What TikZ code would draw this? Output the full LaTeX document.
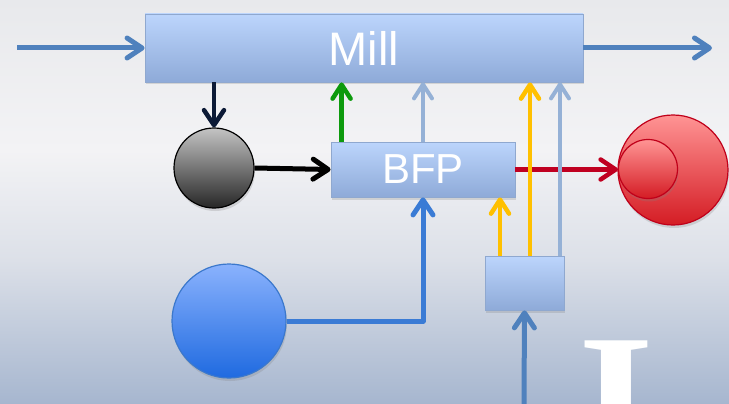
\documentclass[tikz,border=0pt]{standalone}
\usepackage{fontspec}
\setmainfont{Liberation Sans}
\newfontfamily\serifI{Liberation Serif}
\usetikzlibrary{arrows.meta,shadows,calc}
\definecolor{bgtop}{HTML}{E8E9EC}
\definecolor{bgmid}{HTML}{F3F3F5}
\definecolor{bglow}{HTML}{DCE0E8}
\definecolor{bgbot}{HTML}{A6B6CF}
\definecolor{boxtop}{HTML}{BCD5FC}
\definecolor{boxbot}{HTML}{8EAAD8}
\definecolor{boxborder}{HTML}{8FA8CF}
\definecolor{mainblue}{HTML}{4F81BD}
\definecolor{navyc}{HTML}{0C1A36}
\definecolor{greenc}{HTML}{0D9A0D}
\definecolor{grayb}{HTML}{95B1D6}
\definecolor{yellowc}{HTML}{FFC000}
\definecolor{redc}{HTML}{C00021}
\definecolor{lblue}{HTML}{3A7BD5}
\definecolor{graytop}{HTML}{C4C4C4}
\definecolor{graybot}{HTML}{262626}
\definecolor{bluetop}{HTML}{8AB2FD}
\definecolor{bluebot}{HTML}{1F6AE0}
\definecolor{blueborder}{HTML}{3B78CC}
\definecolor{redtop}{HTML}{FF9494}
\definecolor{redbot}{HTML}{D41C24}
\definecolor{redborder}{HTML}{C0001A}
\begin{document}
\begin{tikzpicture}[x=1pt,y=-1pt,
  box/.style={draw=boxborder, line width=0.8pt, top color=boxtop, bottom color=boxbot,
    drop shadow={opacity=0.25, shadow xshift=1pt, shadow yshift=-2.5pt}, text=white, inner sep=0pt},
  ball/.style={circle, inner sep=0pt, line width=1.2pt,
    drop shadow={opacity=0.25, shadow xshift=1pt, shadow yshift=-3pt}},
  tipbig/.style={-{Straight Barb[round,length=15pt,width=20pt]}},
  tipsmall/.style={-{Straight Barb[round,length=14pt,width=18pt]}},
  flowmain/.style={tipbig, draw=mainblue, line width=5pt},
  flownavy/.style={tipbig, draw=navyc, line width=4.5pt},
  flowblack/.style={tipbig, draw=black, line width=5pt},
  flowgreen/.style={tipsmall, draw=greenc, line width=4.5pt},
  flowgray/.style={tipsmall, draw=grayb, line width=4pt},
  flowyellow/.style={tipsmall, draw=yellowc, line width=4.5pt},
  flowred/.style={tipbig, draw=redc, line width=4.5pt},
  flowlblue/.style={tipbig, draw=lblue, line width=5pt, line join=round},
]
\useasboundingbox (0,0) rectangle (729,404);
\clip (0,0) rectangle (729,404);
\shade[top color=bgtop, bottom color=bgmid] (0,0) rectangle (729,150.5);
\shade[top color=bgmid, bottom color=bglow] (0,150) rectangle (729,260.5);
\shade[top color=bglow, bottom color=bgbot] (0,260) rectangle (729,404);

\node[anchor=base, text=white, font=\serifI\bfseries\fontsize{195}{195}\selectfont, inner sep=0pt] (bigI) at (616,468) {I};

\node[box, minimum width=438pt, minimum height=68pt, font=\fontsize{47}{50}\selectfont] (mill) at (364,48) {Mill};
\node[box, minimum width=184pt, minimum height=55pt, font=\fontsize{42}{44}\selectfont] (bfp) at (423,169.5) {BFP};
\node[box, minimum width=79pt, minimum height=54pt] (sb) at (524.5,283) {};

\node[ball, minimum size=80pt, draw=black, top color=graytop, bottom color=graybot] (gc) at (214,168) {};
\node[ball, minimum size=114pt, draw=blueborder, top color=bluetop, bottom color=bluebot] (bc) at (229,321) {};
\node[ball, minimum size=110pt, draw=redborder, top color=redtop, bottom color=redbot] (rb) at (673,170) {};
\node[ball, minimum size=59pt, draw=redborder, top color=redtop, bottom color=redbot] (rs) at (648,169) {};

\coordinate (inS) at (17,48);
\coordinate (outE) at (712,48);
\coordinate (botS) at (524,404);
\coordinate (g0) at ([xshift=11pt]bfp.north west);
\coordinate (y1) at ([xshift=-24.5pt]sb.north);
\coordinate (y2) at ([xshift=5.5pt]sb.north);
\coordinate (g2) at ([xshift=35.5pt]sb.north);

\draw[flowmain] (inS) -- (mill.west);
\draw[flowmain] (mill.east) -- (outE);
\draw[flownavy] (mill.south -| gc.north) -- (gc.north);
\draw[flowblack] (gc.east) -- (bfp.west);
\draw[flowred] (bfp.east) -- (bfp.east -| rs.west);
\draw[flowgreen] (g0) -- (g0 |- mill.south);
\draw[flowgray] (bfp.north) -- (bfp.north |- mill.south);
\draw[flowyellow] (y1) -- (y1 |- bfp.south);
\draw[flowyellow] (y2) -- (y2 |- mill.south);
\draw[flowgray] (g2) -- (g2 |- mill.south);
\draw[flowlblue] (bc.east) -- (bc.east -| bfp.south) -- (bfp.south);
\draw[flowmain] (botS) -- (sb.south);
\end{tikzpicture}
\end{document}
